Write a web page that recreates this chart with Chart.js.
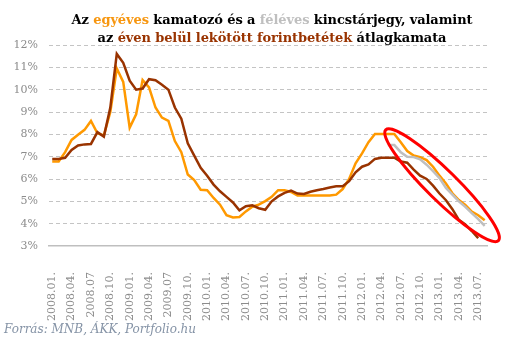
<!DOCTYPE html>
<html>
<head>
<meta charset="utf-8">
<script src="https://cdn.jsdelivr.net/npm/chart.js@4/dist/chart.umd.min.js"></script>
<style>
  html, body { margin:0; padding:0; background:#ffffff; }
  #wrap { position:relative; width:524px; height:349px; overflow:hidden; }
  #c { position:absolute; left:0; top:0; }
  #title { position:absolute; left:20px; top:11px; width:504px; text-align:center;
           font:bold 13px 'DejaVu Serif', serif; letter-spacing:-0.1px; line-height:18px; color:#000; white-space:nowrap; }
  #source { position:absolute; left:4px; top:322px; font:italic 12px 'DejaVu Serif', serif;
            line-height:14px; color:#8593a6; white-space:nowrap; }
</style>
</head>
<body>
<div id="wrap">
  <canvas id="c" width="524" height="349"></canvas>
  <div id="title">Az <span style="color:#F7960F">egyéves</span> kamatozó és a <span style="color:#BFBFBF">féléves</span> kincstárjegy, valamint<br>az <span style="color:#993300">éven belül lekötött forintbetétek</span> átlagkamata</div>
  <div id="source">Forrás: MNB, ÁKK, Portfolio.hu</div>
</div>
<script>
// Categories (months)
const categories = [
  "2008.01.","2008.02.","2008.03.","2008.04.","2008.05.","2008.06.","2008.07","2008.08.","2008.09.","2008.10.","2008.11.","2008.12.",
  "2009.01.","2009.02.","2009.03.","2009.04.","2009.05.","2009.06.","2009.07","2009.08.","2009.09.","2009.10.","2009.11.","2009.12.",
  "2010.01.","2010.02.","2010.03.","2010.04.","2010.05.","2010.06.","2010.07.","2010.08.","2010.09.","2010.10.","2010.11.","2010.12.",
  "2011.01.","2011.02.","2011.03.","2011.04.","2011.05.","2011.06.","2011.07.","2011.08.","2011.09.","2011.10.","2011.11.","2011.12.",
  "2012.01.","2012.02.","2012.03.","2012.04.","2012.05.","2012.06.","2012.07.","2012.08.","2012.09.","2012.10.","2012.11.","2012.12.",
  "2013.01.","2013.02.","2013.03.","2013.04.","2013.05.","2013.06.","2013.07.","2013.08."
];

// 12-month discount treasury bill yield (egyéves)
const egyeves = [
  6.78,6.78,7.2,7.75,7.98,8.2,8.6,8.05,7.95,9.0,10.95,10.35,
  8.3,8.9,10.43,10.1,9.2,8.75,8.6,7.7,7.2,6.2,5.95,5.52,
  5.5,5.15,4.85,4.38,4.28,4.3,4.55,4.76,4.85,5.01,5.2,5.5,
  5.5,5.42,5.26,5.26,5.26,5.26,5.26,5.26,5.3,5.55,6.0,6.7,
  7.15,7.65,8.02,8.02,8.02,8.02,7.65,7.25,7.05,6.98,6.85,6.55,
  6.15,5.8,5.36,5.06,4.84,4.54,4.38,4.15
];

// 6-month treasury bill yield (féléves)
const feleves = [
  null,null,null,null,null,null,null,null,null,null,null,null,
  null,null,null,null,null,null,null,null,null,null,null,null,
  null,null,null,null,null,null,null,null,null,null,null,null,
  null,null,null,null,null,null,null,null,null,null,null,null,
  null,null,null,null,7.52,7.52,7.2,7.0,6.98,6.88,6.64,6.35,
  6.04,5.6,5.3,5.0,4.75,4.47,4.2,3.9
];

// Average rate of forint deposits fixed within one year
const betetek = [
  6.9,6.9,6.95,7.3,7.5,7.55,7.57,8.1,7.9,9.2,11.6,11.2,
  10.4,10.0,10.05,10.47,10.42,10.22,10.0,9.2,8.7,7.6,7.05,6.5,
  6.15,5.75,5.45,5.2,4.95,4.6,4.78,4.82,4.69,4.62,5.0,5.22,
  5.38,5.48,5.35,5.33,5.43,5.5,5.55,5.62,5.67,5.68,5.9,6.3,
  6.55,6.65,6.9,6.95,6.95,6.95,6.78,6.73,6.42,6.15,6.0,5.7,
  5.35,5.05,4.65,4.17,3.97,3.67,3.35,null
];

// y-axis range / tick step
const yMin = 3, yMax = 12, yStep = 1;

// highlight ellipse (data coordinates of its centre)
const highlight = { index: 60.4, value: 5.72 };

const ellipsePlugin = {
  id: 'highlightEllipse',
  afterDatasetsDraw(chart) {
    const { ctx, scales } = chart;
    const cx = scales.x.getPixelForValue(highlight.index);
    const cy = scales.y.getPixelForValue(highlight.value);
    ctx.save();
    ctx.beginPath();
    ctx.ellipse(cx, cy, 79, 15, 44.5 * Math.PI / 180, 0, Math.PI * 2);
    ctx.strokeStyle = '#ff0000';
    ctx.lineWidth = 3;
    ctx.stroke();
    ctx.restore();
  }
};

const tickFont = { family: "'DejaVu Serif', serif", size: 11 };
const tickColor = '#8c8c8c';

new Chart(document.getElementById('c'), {
  type: 'line',
  data: {
    labels: categories,
    datasets: [
      { label: 'féléves', data: feleves, borderColor: '#BFBFBF', borderWidth: 2.5, pointRadius: 0, tension: 0, order: 2 },
      { label: 'egyéves', data: egyeves, borderColor: '#FF9900', borderWidth: 2.5, pointRadius: 0, tension: 0, order: 3 },
      { label: 'forintbetétek', data: betetek, borderColor: '#993300', borderWidth: 2.5, pointRadius: 0, tension: 0, order: 1 }
    ]
  },
  options: {
    responsive: false,
    animation: false,
    events: [],
    layout: { padding: { top: 45, right: 17, left: 0, bottom: 0 } },
    plugins: { legend: { display: false }, title: { display: false }, tooltip: { enabled: false } },
    scales: {
      x: {
        type: 'category',
        offset: true,
        grid: { display: false, drawTicks: false },
        border: { display: true, color: '#bfbfbf', width: 1.5 },
        ticks: {
          autoSkip: false, minRotation: 90, maxRotation: 90, padding: 26,
          color: tickColor, font: tickFont,
          callback: (v, i) => (i % 3 === 0 ? categories[i] : '')
        },
        afterFit(s) { s.height = 103; }
      },
      y: {
        min: yMin, max: yMax,
        ticks: { stepSize: yStep, padding: 11, color: tickColor, font: tickFont, callback: v => v + '%' },
        grid: { drawTicks: false, lineWidth: 1, color: c => (c.tick && c.tick.value === yMin ? 'rgba(0,0,0,0)' : '#c4c4c4') },
        border: { display: false, dash: [4, 3] },
        afterFit(s) { s.width = 49; }
      }
    }
  },
  plugins: [ellipsePlugin]
});
</script>
</body>
</html>
